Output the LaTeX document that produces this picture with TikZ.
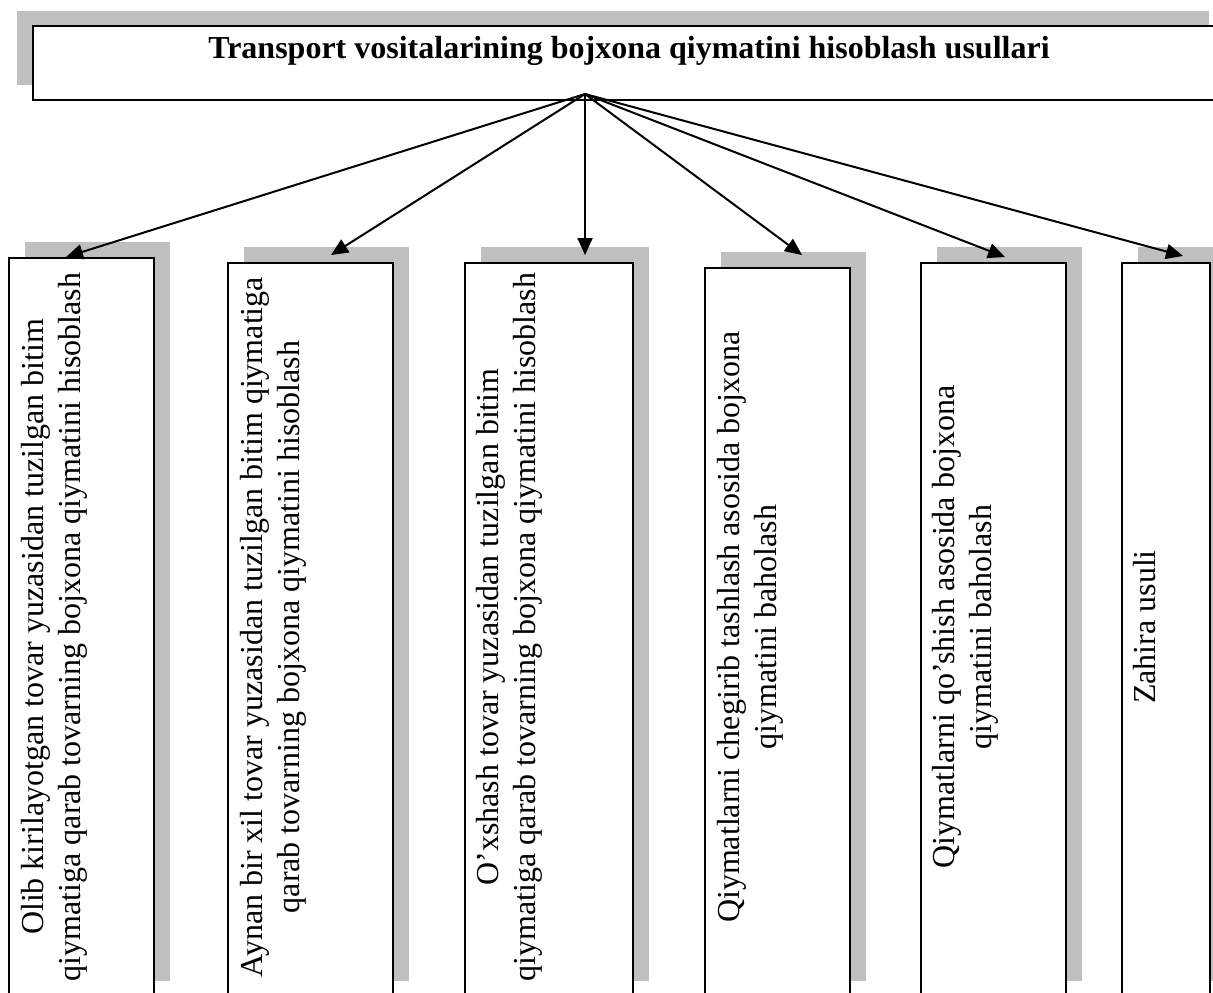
\documentclass[tikz,border=0pt]{standalone}
\usepackage{fontspec}
\setmainfont{Liberation Serif}
\usetikzlibrary{arrows.meta,shadows,fit}
\begin{document}
\begin{tikzpicture}[x=0.5pt,y=-0.5pt,
  box/.style={draw=black, line width=1pt, fill=white, inner sep=0pt,
    general shadow={fill=gray!50, shadow xshift=8pt, shadow yshift=8pt}},
  tbox/.style={draw=black, line width=1pt, fill=white, inner sep=0pt,
    general shadow={fill=gray!50, shadow xshift=-8pt, shadow yshift=7.5pt}},
  vtext/.style={rotate=90, anchor=north, align=center, inner sep=0pt,
    font=\fontsize{16}{18.4}\selectfont},
  conn/.style={line width=1pt, -{Triangle[length=8.5pt,width=7.5pt]}}]
\useasboundingbox (0,0) rectangle (1213,992);
\clip (0,0) rectangle (1213,992);
% title
\node[tbox, fit={(33,26) (1225,100)}] (title) {};
\node[anchor=base, inner sep=0pt, font=\bfseries\fontsize{16}{18.4}\selectfont] (ttext) at (629,58)
  {Transport vositalarining bojxona qiymatini hisoblash usullari};
% lower boxes
\node[box, fit={(9,258) (154,997)}] (b1) {};
\node[box, fit={(228,263) (393,997)}] (b2) {};
\node[box, fit={(465,263) (633,997)}] (b3) {};
\node[box, fit={(705,268) (850,997)}] (b4) {};
\node[box, fit={(921,263) (1066,997)}] (b5) {};
\node[box, fit={(1122,263) (1210,997)}] (b6) {};
% texts
\node[vtext] (t1) at (21,627) {Olib kirilayotgan tovar yuzasidan tuzilgan bitim\\qiymatiga qarab tovarning bojxona qiymatini hisoblash};
\node[vtext] (t2) at (240,627) {Aynan bir xil tovar yuzasidan tuzilgan bitim qiymatiga\\qarab tovarning bojxona qiymatini hisoblash};
\node[vtext] (t3) at (476,627) {O’xshash tovar yuzasidan tuzilgan bitim\\qiymatiga qarab tovarning bojxona qiymatini hisoblash};
\node[vtext] (t4) at (717,627) {Qiymatlarni chegirib tashlash asosida bojxona\\qiymatini baholash};
\node[vtext] (t5) at (932,627) {Qiymatlarni qo’shish asosida bojxona\\qiymatini baholash};
\node[vtext] (t6) at (1133,627) {Zahira usuli};
% connectors
\coordinate (src) at (585,94);
\coordinate (e1) at (66,257);
\coordinate (e2) at (331,255);
\coordinate (e3) at (585,255);
\coordinate (e4) at (802,255);
\coordinate (e5) at (1005,257);
\coordinate (e6) at (1183,256);
\foreach \i in {1,...,6} { \draw[conn] (src) -- (e\i); }
\end{tikzpicture}
\end{document}
